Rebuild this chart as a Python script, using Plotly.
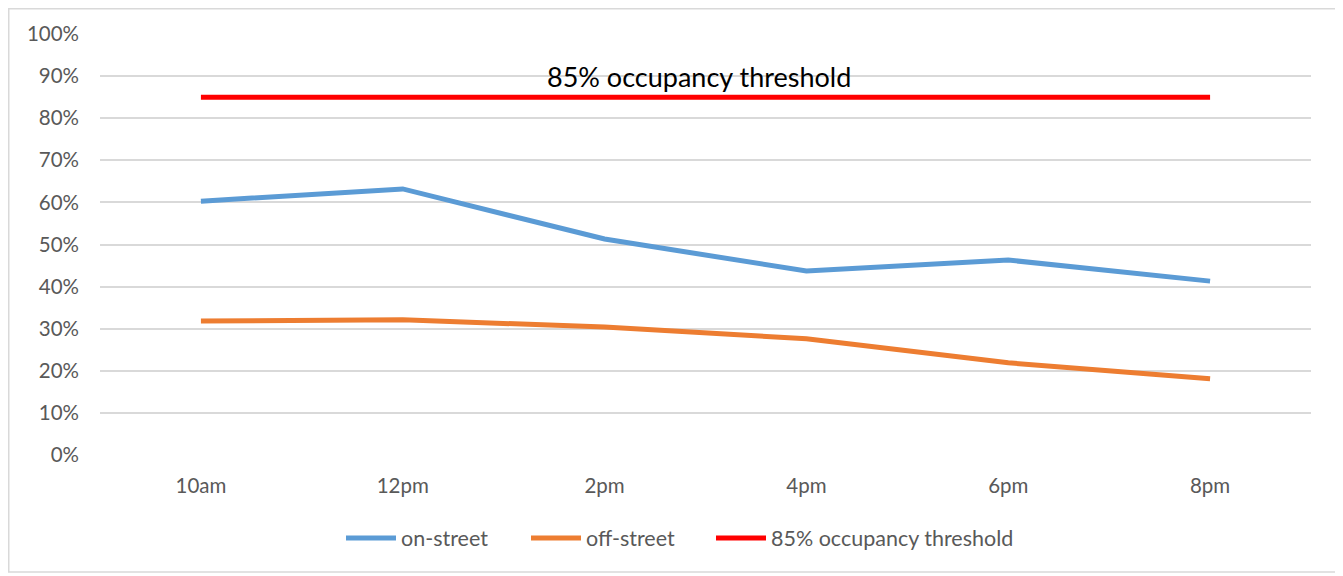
import plotly.graph_objects as go

categories = ["10am", "12pm", "2pm", "4pm", "6pm", "8pm"]
on_street = [0.603, 0.632, 0.513, 0.437, 0.463, 0.413]
off_street = [0.318, 0.321, 0.304, 0.276, 0.219, 0.181]
threshold = [0.85, 0.85, 0.85, 0.85, 0.85, 0.85]
y_ticks = [0, 0.1, 0.2, 0.3, 0.4, 0.5, 0.6, 0.7, 0.8, 0.9, 1.0]
y_tick_labels = ["0%", "10%", "20%", "30%", "40%", "50%", "60%", "70%", "80%", "90%", "100%"]

# the page body adds an 8px offset, so the figure is sized to fit the window
W, H = 1335, 568
ml, mr, mt, mb = 92, 32, 26, 121
pw, ph = W - ml - mr, H - mt - mb

font_family = "Lato, 'Open Sans', sans-serif"

fig = go.Figure()
fig.add_trace(go.Scatter(x=categories, y=on_street, mode="lines", name="on-street",
                         line=dict(color="#5B9BD5", width=5), legend="legend"))
fig.add_trace(go.Scatter(x=categories, y=off_street, mode="lines", name="off-street",
                         line=dict(color="#ED7D31", width=5), legend="legend2"))
fig.add_trace(go.Scatter(x=categories, y=threshold, mode="lines", name="85% occupancy threshold",
                         line=dict(color="#FF0000", width=5), legend="legend3"))

fig.add_annotation(x=2.47, y=0.9, xref="x", yref="y", text="85% occupancy threshold",
                   showarrow=False, font=dict(family=font_family, size=27, color="#000000"),
                   xanchor="center", yanchor="middle")

# outer chart border
fig.add_shape(type="rect", xref="paper", yref="paper",
              x0=(0.75 - ml) / pw, x1=(1330 - ml) / pw,
              y0=(H - mb - 564) / ph, y1=(H - mb - 0.75) / ph,
              line=dict(color="#D9D9D9", width=1.5), layer="below")


def legend_at(page_x):
    return dict(orientation="h", x=(page_x - 8 - 5 - ml) / pw, xanchor="left",
                y=-0.197, yanchor="middle",
                font=dict(size=21.5, color="#595959"), itemwidth=50)


fig.update_layout(
    width=W, height=H,
    margin=dict(l=ml, r=mr, t=mt, b=mb, autoexpand=False),
    paper_bgcolor="white", plot_bgcolor="white",
    font=dict(family=font_family, color="#595959"),
    showlegend=True,
    legend=legend_at(346),
    legend2=legend_at(531),
    legend3=legend_at(716),
    xaxis=dict(type="category", range=[-0.5, 5.5], showgrid=False, showline=False,
               ticks="", tickfont=dict(size=20.5, color="#595959"), zeroline=False,
               ticklabelstandoff=16),
    yaxis=dict(range=[0, 1.0], tickvals=y_ticks, ticktext=y_tick_labels,
               showgrid=True, gridcolor="#D9D9D9", gridwidth=1.5, zeroline=False,
               showline=False, ticks="", tickfont=dict(size=20.5, color="#595959"),
               ticklabelstandoff=20),
)

fig.write_html("out.html")
